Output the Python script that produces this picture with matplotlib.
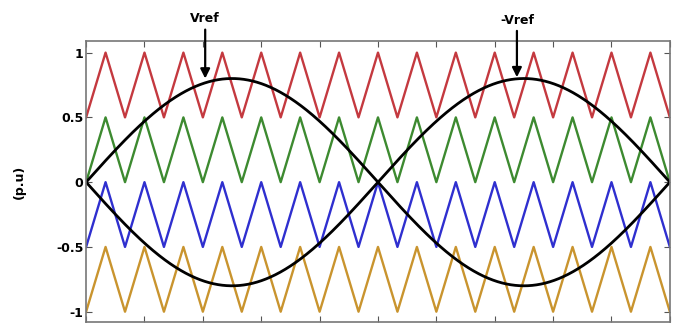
import numpy as np
import matplotlib
matplotlib.use("Agg")
import matplotlib.pyplot as plt

# Data
n_carrier_periods = 15
carrier_levels = [0.5, 0.0, -0.5, -1.0]          # lower bound of each carrier band
carrier_colors = ["#c4393f", "#3d8a30", "#2f2fcf", "#c9942e"]
ref_amplitude = 0.8
yticks = [-1, -0.5, 0, 0.5, 1]
ytick_labels = ["-1", "-0.5", "0", "0.5", "1"]
xticks = np.linspace(0, 1, 11)

t = np.linspace(0, 1, 6001)
phase = (t * n_carrier_periods) % 1.0
tri = np.where(phase < 0.5, 2 * phase, 2 - 2 * phase)   # 0..1 triangle

fig = plt.figure(figsize=(6.78, 3.25), dpi=100)
ax = fig.add_axes([0.127, 0.009, 0.861, 0.865])

for lvl, c in zip(carrier_levels, carrier_colors):
    ax.plot(t, lvl + 0.5 * tri, color=c, lw=1.7)

vref = ref_amplitude * np.sin(2 * np.pi * t)
ax.plot(t, vref, color="black", lw=2.0)
ax.plot(t, -vref, color="black", lw=2.0)

ax.set_xlim(0, 1)
ax.set_ylim(-1.08, 1.09)
ax.set_xticks(xticks)
ax.set_xticklabels([])
ax.set_yticks(yticks)
ax.set_yticklabels(ytick_labels, fontweight="bold", fontsize=9)
ax.tick_params(direction="in", top=True, right=True, length=4, color="#555555", pad=2)
for s in ax.spines.values():
    s.set_color("#777777")
    s.set_linewidth(1.2)

ax.set_ylabel("(p.u)", fontweight="bold", fontsize=9, labelpad=22)

ax.annotate("Vref", xy=(0.204, 0.80), xytext=(0.204, 1.26),
            ha="center", va="center", fontweight="bold", fontsize=9,
            annotation_clip=False,
            arrowprops=dict(arrowstyle="-|>", color="black", lw=1.6,
                            shrinkA=1, shrinkB=0, mutation_scale=14))
ax.annotate("-Vref", xy=(0.738, 0.81), xytext=(0.738, 1.25),
            ha="center", va="center", fontweight="bold", fontsize=9,
            annotation_clip=False,
            arrowprops=dict(arrowstyle="-|>", color="black", lw=1.6,
                            shrinkA=1, shrinkB=0, mutation_scale=14))

fig.savefig("out.png", dpi=100)
